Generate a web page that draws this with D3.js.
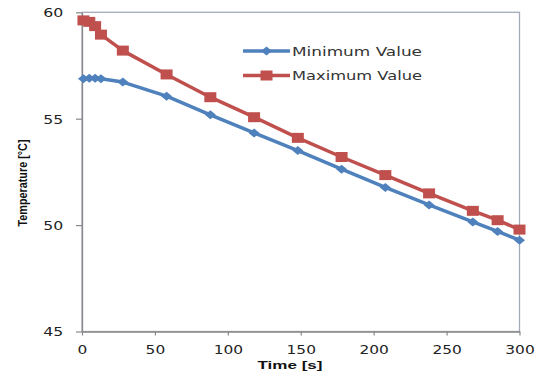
<!DOCTYPE html>
<html>
<head>
<meta charset="utf-8">
<script src="https://cdn.jsdelivr.net/npm/d3@7"></script>
<style>
  html, body { margin: 0; padding: 0; background: #fff; }
  svg { display: block; }
</style>
</head>
<body>
<svg id="chart" width="545" height="376"></svg>
<script>
// ---- data ----
const times = [1, 5, 9, 13, 28, 58, 88, 118, 148, 178, 208, 238, 268, 285, 300];
const minValues = [56.88, 56.9, 56.9, 56.88, 56.72, 56.06, 55.18, 54.33, 53.5, 52.63, 51.77, 50.95, 50.15, 49.7, 49.29];
const maxValues = [59.62, 59.55, 59.35, 58.95, 58.2, 57.08, 56.01, 55.07, 54.1, 53.2, 52.35, 51.49, 50.67, 50.23, 49.79];
const seriesNames = ["Minimum Value", "Maximum Value"];
const xTicks = [0, 50, 100, 150, 200, 250, 300];
const yTicks = [45, 50, 55, 60];
const xTitle = "Time [s]";
const yTitle = "Temperature [°C]";

// ---- layout ----
const svg = d3.select("#chart");
const L = 82, R = 519.5, T = 12.3, B = 331.5;
const x = d3.scaleLinear().domain([0, 300]).range([L, R]);
const y = d3.scaleLinear().domain([45, 60]).range([B, T]);
const blue = "#4F81BD", red = "#C0504D";
const font = "DejaVu Sans, Verdana, sans-serif";

// frame
svg.append("rect").attr("x", L).attr("y", T).attr("width", R - L).attr("height", B - T)
  .attr("fill", "none").attr("stroke", "#A4ABBB").attr("stroke-width", 1.3);

// x axis
const xAxis = svg.append("g").attr("transform", `translate(0,${B})`)
  .call(d3.axisBottom(x).tickValues(xTicks).tickSize(4).tickSizeOuter(0));
xAxis.select(".domain").attr("stroke", "#888").attr("stroke-width", 1.3);
xAxis.selectAll(".tick line").attr("stroke", "#888").attr("stroke-width", 1.2);
xAxis.selectAll(".tick text")
  .attr("y", 0).attr("dy", null).attr("transform", "translate(0,22.5)")
  .attr("font-family", font).attr("font-size", 12).attr("fill", "#222")
  .attr("textLength", d => String(d).length * 9.8).attr("lengthAdjust", "spacingAndGlyphs");

// y axis
const yAxis = svg.append("g").attr("transform", `translate(${L},0)`)
  .call(d3.axisLeft(y).tickValues(yTicks).tickSize(6).tickSizeOuter(0));
yAxis.select(".domain").attr("stroke", "#888").attr("stroke-width", 1.3);
yAxis.selectAll(".tick line").attr("stroke", "#888").attr("stroke-width", 1.2);
yAxis.selectAll(".tick text")
  .attr("x", -18.7).attr("dy", "0.36em")
  .attr("font-family", font).attr("font-size", 12).attr("fill", "#222")
  .attr("textLength", d => String(d).length * 10).attr("lengthAdjust", "spacingAndGlyphs");

// titles
svg.append("text").attr("x", 290).attr("y", 368.5).attr("text-anchor", "middle")
  .attr("font-family", "Liberation Sans, Arial, sans-serif").attr("font-weight", "bold")
  .attr("font-size", 11.5).attr("fill", "#111")
  .attr("textLength", 65).attr("lengthAdjust", "spacingAndGlyphs").text(xTitle);
svg.append("text").attr("transform", "translate(27,183) rotate(-90)").attr("text-anchor", "middle")
  .attr("font-family", "Liberation Sans, Arial, sans-serif").attr("font-weight", "bold")
  .attr("font-size", 13).attr("fill", "#111")
  .attr("textLength", 87).attr("lengthAdjust", "spacingAndGlyphs").text(yTitle);

// series
const series = [
  { name: seriesNames[0], values: minValues, color: blue, marker: "diamond" },
  { name: seriesNames[1], values: maxValues, color: red, marker: "square" }
];
const line = d3.line().x(d => x(d[0])).y(d => y(d[1]));
const diamondPath = "M-5.5,0L0,-4.5L5.5,0L0,4.5Z";
const squarePath = "M-6,-5H6V5H-6Z";

series.forEach(s => {
  const pts = times.map((t, i) => [t, s.values[i]]);
  svg.append("path").datum(pts).attr("d", line)
    .attr("fill", "none").attr("stroke", s.color).attr("stroke-width", 3.5)
    .attr("stroke-linejoin", "round");
  svg.append("g").selectAll("path").data(pts).join("path")
    .attr("transform", d => `translate(${x(d[0])},${y(d[1])})`)
    .attr("d", s.marker === "diamond" ? diamondPath : squarePath)
    .attr("fill", s.color);
});

// legend
const legY = [51, 75.5];
series.forEach((s, i) => {
  const g = svg.append("g").attr("transform", `translate(0,${legY[i]})`);
  g.append("line").attr("x1", 243).attr("x2", 290).attr("y1", 0).attr("y2", 0)
    .attr("stroke", s.color).attr("stroke-width", 3.5);
  g.append("path").attr("transform", "translate(266.5,0)")
    .attr("d", s.marker === "diamond" ? diamondPath : squarePath).attr("fill", s.color);
  g.append("text").attr("x", 292).attr("y", 4.8)
    .attr("font-family", font).attr("font-size", 13).attr("fill", "#333")
    .attr("textLength", 130).attr("lengthAdjust", "spacingAndGlyphs").text(s.name);
});
</script>
</body>
</html>
